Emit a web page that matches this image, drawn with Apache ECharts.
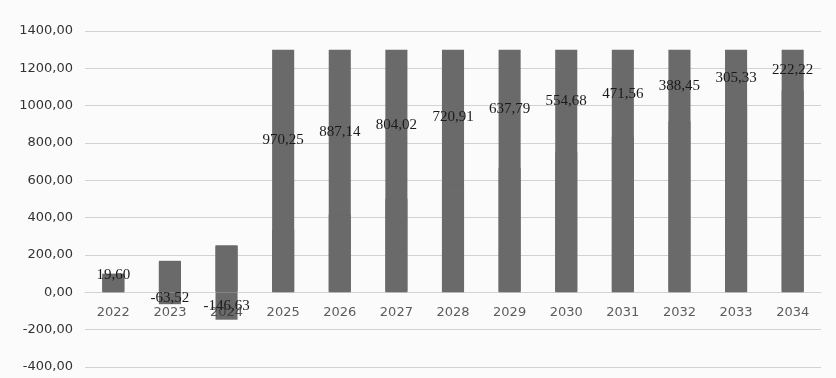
<!DOCTYPE html>
<html>
<head>
<meta charset="utf-8">
<script src="https://cdn.jsdelivr.net/npm/echarts@6/dist/echarts.min.js"></script>
<style>
  html, body { margin: 0; padding: 0; background: #fbfbfb; }
  #chart { width: 836px; height: 378px; }
</style>
</head>
<body>
<div id="chart"></div>
<script>
// years on the x axis
var years = ['2022', '2023', '2024', '2025', '2026', '2027', '2028', '2029', '2030', '2031', '2032', '2033', '2034'];
// lower stacked part (no labels)
var baseValues = [80.42, 163.53, 246.64, 329.75, 412.86, 495.98, 579.09, 662.21, 745.32, 828.44, 911.55, 994.67, 1077.78];
// labelled part stacked on top (negatives go below zero)
var netValues = [19.60, -63.52, -146.63, 970.25, 887.14, 804.02, 720.91, 637.79, 554.68, 471.56, 388.45, 305.33, 222.22];
// y axis ticks
var yTicks = [-400, -200, 0, 200, 400, 600, 800, 1000, 1200, 1400];

function comma(v) {
    return Number(v).toFixed(2).replace('.', ',');
}

var barColor = '#6a6a6a';

var chart = echarts.init(document.getElementById('chart'));
var option = {
    backgroundColor: '#fbfbfb',
    animation: false,
    grid: {
        left: 85,
        right: 15,
        top: 31,
        bottom: 11,
        outerBoundsMode: 'none'
    },
    xAxis: {
        type: 'category',
        data: years,
        axisTick: { show: false },
        axisLine: {
            show: true,
            onZero: true,
            lineStyle: { color: '#d2d2d2' }
        },
        // year labels are drawn at the zero line by the helper series below
        axisLabel: { show: false }
    },
    yAxis: {
        type: 'value',
        min: yTicks[0],
        max: yTicks[yTicks.length - 1],
        interval: yTicks[1] - yTicks[0],
        axisLine: { show: false },
        axisTick: { show: false },
        splitLine: {
            lineStyle: { color: '#d2d2d2', width: 1 }
        },
        axisLabel: {
            margin: 12,
            color: '#333',
            fontFamily: 'DejaVu Sans',
            fontSize: 13,
            formatter: comma
        }
    },
    series: [
        {
            name: 'base',
            type: 'bar',
            stack: 'total',
            barWidth: '39%',
            data: baseValues,
            // 1px shadow upward hides the seam between the two stacked parts
            itemStyle: { color: barColor, shadowColor: barColor, shadowBlur: 0, shadowOffsetY: -1 }
        },
        {
            name: 'net',
            type: 'bar',
            stack: 'total',
            barWidth: '39%',
            data: netValues,
            itemStyle: { color: barColor },
            label: {
                show: true,
                position: 'inside',
                color: '#1a1a1a',
                fontFamily: 'Liberation Serif',
                fontSize: 15,
                formatter: function (p) { return comma(p.value); }
            }
        },
        {
            // category labels sitting just under the zero line
            name: 'years',
            type: 'scatter',
            symbolSize: 0,
            silent: true,
            z: 5,
            data: years.map(function (y) { return [y, 0]; }),
            label: {
                show: true,
                position: 'bottom',
                distance: 14,
                color: '#333',
                fontFamily: 'DejaVu Sans',
                fontSize: 13,
                formatter: function (p) { return p.value[0]; }
            }
        }
    ]
};
chart.setOption(option);
</script>
</body>
</html>
